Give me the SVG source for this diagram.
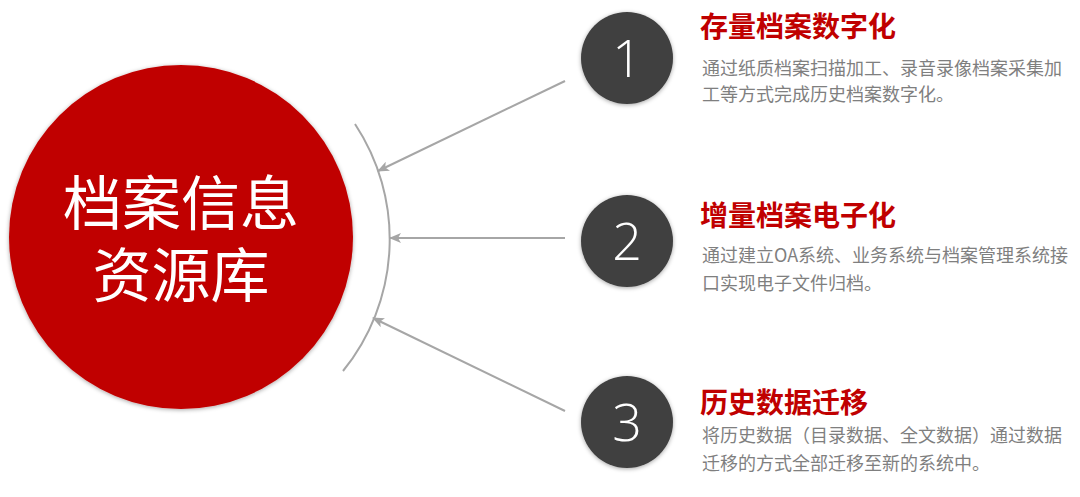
<svg xmlns="http://www.w3.org/2000/svg" width="1080" height="497" viewBox="0 0 1080 497">
<style>
.main{font-family:"Noto Sans CJK SC","Noto Sans",sans-serif;font-size:59px;fill:#fff;text-anchor:middle;font-weight:400}
.num{font-family:"Open Sans","Noto Sans",sans-serif;font-weight:300;font-size:52px;fill:#fff;text-anchor:middle}
.title{font-family:"Noto Sans CJK SC",sans-serif;font-weight:700;font-size:28px;fill:#C00000}
.desc{font-family:"Noto Sans CJK SC",sans-serif;font-size:18px;fill:#7F7F7F}
.conn{stroke:#A6A6A6;stroke-width:2;fill:none}
.ncirc{fill:#404040;filter:url(#sh)}
</style>
<defs>
<filter id="sh" x="-20%" y="-20%" width="140%" height="140%">
<feDropShadow dx="0" dy="1" stdDeviation="2" flood-color="#000" flood-opacity="0.35"/>
</filter>
<marker id="ah" viewBox="0 0 12 10" refX="11" refY="5" markerWidth="12" markerHeight="10" markerUnits="userSpaceOnUse" orient="auto">
<path d="M0,0 L12,5 L0,10 L3,5 Z" fill="#A6A6A6"/>
</marker>
</defs>
<g id="hub">
<circle cx="181" cy="237" r="172" fill="#C00000" filter="url(#sh)"/>
<text class="main"><tspan x="181" y="225">档案信息</tspan><tspan x="181" y="297">资源库</tspan></text>
</g>
<g id="connectors">
<path class="conn" d="M355,124 A209,209 0 0 1 343,371"/>
<line class="conn" x1="565" y1="81" x2="378" y2="171" marker-end="url(#ah)"/>
<line class="conn" x1="565" y1="238" x2="390" y2="238" marker-end="url(#ah)"/>
<line class="conn" x1="565" y1="411" x2="373" y2="318" marker-end="url(#ah)"/>
</g>
<g id="item1">
<circle class="ncirc" cx="627" cy="58" r="46"/>
<text class="num" x="627" y="77">1</text>
<text class="title" x="700" y="37">存量档案数字化</text>
<text class="desc"><tspan x="702" y="75">通过纸质档案扫描加工、录音录像档案采集加</tspan><tspan x="702" y="101">工等方式完成历史档案数字化。</tspan></text>
</g>
<g id="item2">
<circle class="ncirc" cx="627" cy="241" r="46"/>
<text class="num" x="627" y="260">2</text>
<text class="title" x="700" y="226">增量档案电子化</text>
<text class="desc"><tspan x="702" y="262">通过建立OA系统、业务系统与档案管理系统接</tspan><tspan x="702" y="290">口实现电子文件归档。</tspan></text>
</g>
<g id="item3">
<circle class="ncirc" cx="627" cy="422" r="46"/>
<text class="num" x="627" y="441">3</text>
<text class="title" x="700" y="413">历史数据迁移</text>
<text class="desc"><tspan x="702" y="442">将历史数据（目录数据、全文数据）通过数据</tspan><tspan x="702" y="470">迁移的方式全部迁移至新的系统中。</tspan></text>
</g>
</svg>
